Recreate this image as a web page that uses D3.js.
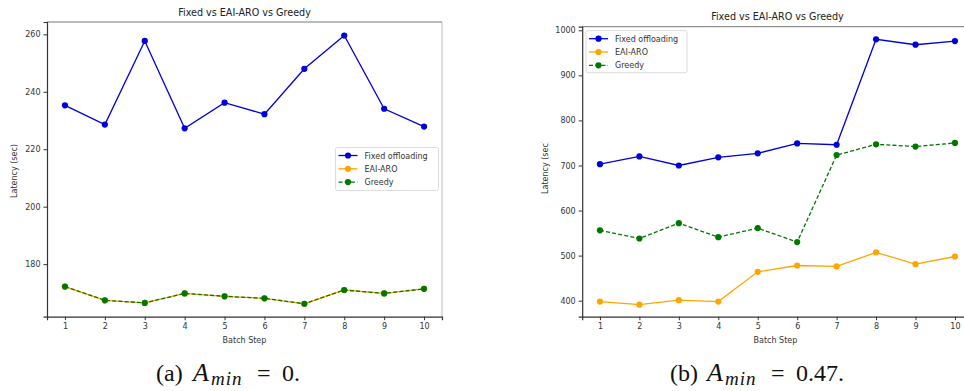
<!DOCTYPE html>
<html><head><meta charset="utf-8">
<script src="https://cdn.jsdelivr.net/npm/d3@7"></script>
<style>body{margin:0;background:#fff;} svg{display:block;}</style>
</head><body>
<svg id="c" width="964" height="391"></svg>
<script>
const steps = [1,2,3,4,5,6,7,8,9,10];
const seriesNames = ["Fixed offloading","EAI-ARO","Greedy"];
// (a) A_min = 0
const fixedA  = [235.3,228.6,257.7,227.3,236.2,232.2,248.0,259.6,234.1,227.9];
const eaiA    = [172.2,167.4,166.5,169.8,168.8,168.1,166.2,171.0,169.8,171.4];
const greedyA = [172.2,167.4,166.5,169.8,168.8,168.1,166.2,171.0,169.8,171.4];
const yTicksA = [180,200,220,240,260];
// (b) A_min = 0.47
const fixedB  = [703,720,700,718,727,749,746,980,968,976];
const eaiB    = [398,391,401,398,464,478,476,507,481,498];
const greedyB = [556,538,572,541,561,530,723,747,742,750];
const yTicksB = [400,500,600,700,800,900,1000];

const title = "Fixed vs EAI-ARO vs Greedy";
const xLabel = "Batch Step";
const yLabel = "Latency (sec)";

const colors = ["#0000d8","#ffa500","#007800"];
const dashes = [null,null,"4,2.2"];
const font = "DejaVu Sans, sans-serif";
const svg = d3.select("#c");

function panel(cfg){
  const g = svg.append("g");
  const x = d3.scaleLinear().domain([0.55,10.45]).range([cfg.left, cfg.right]);
  const y = d3.scaleLinear().domain(cfg.ydom).range([cfg.bottom, cfg.top]);
  // frame
  g.append("line").attr("x1",cfg.left).attr("x2",cfg.right).attr("y1",cfg.top).attr("y2",cfg.top).attr("stroke","#777").attr("stroke-width",1);
  g.append("line").attr("x1",cfg.right).attr("x2",cfg.right).attr("y1",cfg.top).attr("y2",cfg.bottom).attr("stroke","#bbb").attr("stroke-width",1);
  const xa = g.append("g").attr("transform",`translate(0,${cfg.bottom})`)
    .call(d3.axisBottom(x).tickValues(steps).tickFormat(d3.format("d")).tickSize(3.5).tickPadding(3));
  const ya = g.append("g").attr("transform",`translate(${cfg.left},0)`)
    .call(d3.axisLeft(y).tickValues(cfg.yticks).tickFormat(d3.format("d")).tickSize(3.5).tickPadding(3));
  [xa,ya].forEach(a=>{
    a.select(".domain").attr("stroke","#333").attr("stroke-width",1.2);
    a.selectAll(".tick line").attr("stroke","#333");
    a.selectAll("text").attr("font-family",font).attr("font-size",8).attr("fill","#333");
  });
  // title & labels
  g.append("text").attr("x",(cfg.left+cfg.right)/2).attr("y",cfg.titleY).attr("text-anchor","middle")
    .attr("font-family",font).attr("font-size",9.6).attr("fill","#222").text(title);
  g.append("text").attr("x",(cfg.left+cfg.right)/2 + (cfg.xlabOff||0)).attr("y",343).attr("text-anchor","middle")
    .attr("font-family",font).attr("font-size",8).attr("fill","#333").text(xLabel);
  const ylg = g.append("g");
  if(cfg.clipTop!=null){
    const id="clipY"+cfg.id;
    svg.append("clipPath").attr("id",id).append("rect").attr("x",0).attr("y",cfg.clipTop).attr("width",964).attr("height",391-cfg.clipTop);
    ylg.attr("clip-path",`url(#${id})`);
  }
  ylg.append("text").attr("transform",`translate(${cfg.ylabX},${cfg.ylabY}) rotate(-90)`).attr("text-anchor","middle")
    .attr("font-family",font).attr("font-size",8).attr("fill","#333").text(yLabel);
  // series
  const data = [cfg.fixed, cfg.eai, cfg.greedy];
  const line = d3.line().x((d,i)=>x(steps[i])).y(d=>y(d));
  data.forEach((vals,k)=>{
    g.append("path").datum(vals).attr("d",line).attr("fill","none").attr("stroke",colors[k])
      .attr("stroke-width",1.3).attr("stroke-dasharray",dashes[k]);
    g.selectAll(null).data(vals).enter().append("circle")
      .attr("cx",(d,i)=>x(steps[i])).attr("cy",d=>y(d)).attr("r",3.1).attr("fill",colors[k]);
  });
  // legend
  const L = cfg.legend;
  g.append("rect").attr("x",L.x).attr("y",L.y).attr("width",L.w).attr("height",L.h).attr("rx",2)
    .attr("fill","#fff").attr("fill-opacity",0.85).attr("stroke","#ddd");
  seriesNames.forEach((n,k)=>{
    const yy = L.y + 8 + k*13.3;
    g.append("line").attr("x1",L.x+3).attr("x2",L.x+22).attr("y1",yy).attr("y2",yy)
      .attr("stroke",colors[k]).attr("stroke-width",1.3).attr("stroke-dasharray",dashes[k]);
    g.append("circle").attr("cx",L.x+12.5).attr("cy",yy).attr("r",3.1).attr("fill",colors[k]);
    g.append("text").attr("x",L.x+29).attr("y",yy+3).attr("font-family",font).attr("font-size",8)
      .attr("fill","#333").text(n);
  });
  // caption
  const s = cfg.capStart;
  const cap = svg.append("text").attr("y",381)
    .attr("font-family","Liberation Serif, DejaVu Serif, serif").attr("font-size",24).attr("fill","#111");
  cap.append("tspan").attr("x",s).text(cfg.capPrefix);
  cap.append("tspan").attr("x",s+37).attr("font-style","italic").attr("font-size",26).text("A");
  cap.append("tspan").attr("x",s+55).attr("font-style","italic").attr("font-size",19).attr("letter-spacing",1).attr("dy",4).text("min");
  cap.append("tspan").attr("x",s+101).attr("dy",-4).attr("textLength",23).text("=");
  cap.append("tspan").attr("x",s+126).text(cfg.capVal+".");
}

panel({id:"a", left:47, right:442, top:22, bottom:316.7, ydom:[161.7,264.3], yticks:yTicksA,
  fixed:fixedA, eai:eaiA, greedy:greedyA, titleY:16, ylabX:17, ylabY:171,
  legend:{x:335.5,y:147.5,w:103,h:43}, capStart:156, capPrefix:"(a)", capVal:"0"});
panel({id:"b", left:582.2, right:972.7, top:26.7, bottom:316.7, ydom:[364.4,1008], yticks:yTicksB,
  fixed:fixedB, eai:eaiB, greedy:greedyB, titleY:20, ylabX:547.5, ylabY:167, clipTop:142,
  legend:{x:586,y:30.7,w:101,h:42}, capStart:670, capPrefix:"(b)", capVal:"0.47", xlabOff:-2});
</script>
</body></html>
